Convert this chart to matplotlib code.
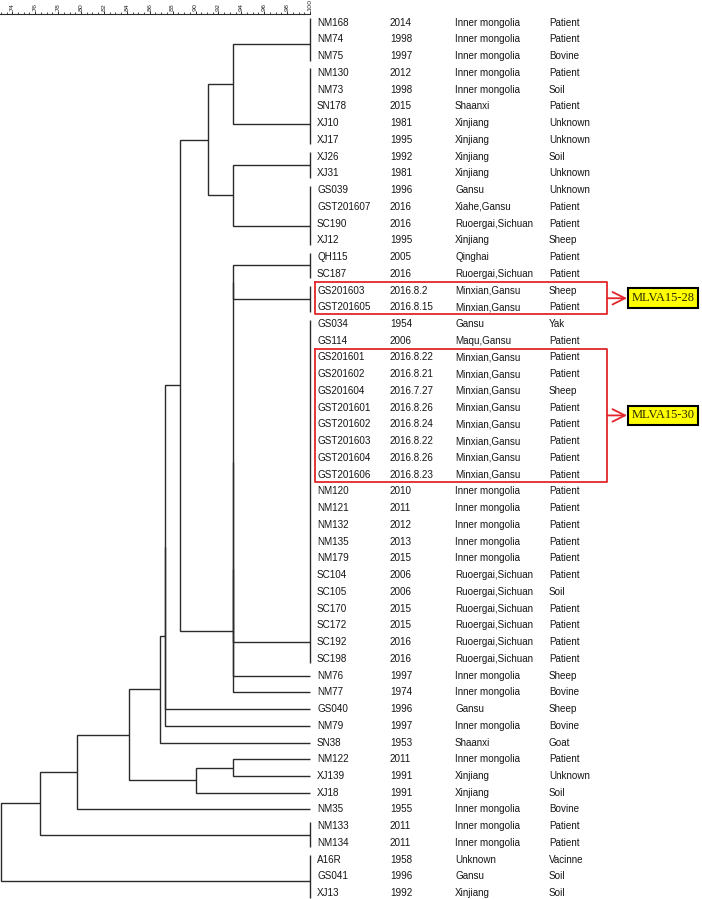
import matplotlib.pyplot as plt

# strains, top to bottom as they appear beside the dendrogram
names = ['NM168', 'NM74', 'NM75', 'NM130', 'NM73', 'SN178', 'XJ10', 'XJ17', 'XJ26', 'XJ31',
         'GS039', 'GST201607', 'SC190', 'XJ12', 'QH115', 'SC187', 'GS201603', 'GST201605',
         'GS034', 'GS114', 'GS201601', 'GS201602', 'GS201604', 'GST201601', 'GST201602',
         'GST201603', 'GST201604', 'GST201606', 'NM120', 'NM121', 'NM132', 'NM135', 'NM179',
         'SC104', 'SC105', 'SC170', 'SC172', 'SC192', 'SC198', 'NM76', 'NM77', 'GS040',
         'NM79', 'SN38', 'NM122', 'XJ139', 'XJ18', 'NM35', 'NM133', 'NM134', 'A16R',
         'GS041', 'XJ13']
years = ['2014', '1998', '1997', '2012', '1998', '2015', '1981', '1995', '1992', '1981',
         '1996', '2016', '2016', '1995', '2005', '2016', '2016.8.2', '2016.8.15',
         '1954', '2006', '2016.8.22', '2016.8.21', '2016.7.27', '2016.8.26', '2016.8.24',
         '2016.8.22', '2016.8.26', '2016.8.23', '2010', '2011', '2012', '2013', '2015',
         '2006', '2006', '2015', '2015', '2016', '2016', '1997', '1974', '1996',
         '1997', '1953', '2011', '1991', '1991', '1955', '2011', '2011', '1958',
         '1996', '1992']
places = ['Inner mongolia'] * 5 + ['Shaanxi'] + ['Xinjiang'] * 4 + \
         ['Gansu', 'Xiahe,Gansu', 'Ruoergai,Sichuan', 'Xinjiang', 'Qinghai', 'Ruoergai,Sichuan',
          'Minxian,Gansu', 'Minxian,Gansu', 'Gansu', 'Maqu,Gansu'] + ['Minxian,Gansu'] * 8 + \
         ['Inner mongolia'] * 5 + ['Ruoergai,Sichuan'] * 6 + \
         ['Inner mongolia', 'Inner mongolia', 'Gansu', 'Inner mongolia', 'Shaanxi',
          'Inner mongolia', 'Xinjiang', 'Xinjiang', 'Inner mongolia', 'Inner mongolia',
          'Inner mongolia', 'Unknown', 'Gansu', 'Xinjiang']
sources = ['Patient', 'Patient', 'Bovine', 'Patient', 'Soil', 'Patient', 'Unknown', 'Unknown',
           'Soil', 'Unknown', 'Unknown', 'Patient', 'Patient', 'Sheep', 'Patient', 'Patient',
           'Sheep', 'Patient', 'Yak', 'Patient', 'Patient', 'Patient', 'Sheep', 'Patient',
           'Patient', 'Patient', 'Patient', 'Patient', 'Patient', 'Patient', 'Patient',
           'Patient', 'Patient', 'Patient', 'Soil', 'Patient', 'Patient', 'Patient', 'Patient',
           'Sheep', 'Bovine', 'Sheep', 'Bovine', 'Goat', 'Patient', 'Unknown', 'Soil',
           'Bovine', 'Patient', 'Patient', 'Vacinne', 'Soil', 'Soil']

# strains with identical profiles (100 % similarity)
groups = {
    'g1': [0, 1, 2],
    'g2': [3, 4, 5, 6, 7],
    'g3': [8, 9],
    'g4': [10, 11, 12, 13],
    'g5': [14, 15],
    'g6': [16, 17],
    'g7': list(range(18, 39)),
    'g8': [48, 49],
    'g9': [50, 51, 52],
}

# dendrogram nodes: (similarity %, left, right); ints are single strains, strings are groups
clade_a = (93.3, 'g1', 'g2')
clade_b = (93.3, 'g3', 'g4')
clade_c = (91.1, clade_a, clade_b)
clade_e = (93.3, (93.3, (93.3, (93.3, 'g5', 'g6'), 'g7'), 39), 40)
clade_d = (88.65, clade_c, clade_e)
clade_f = (87.3, (87.3, clade_d, 41), 42)
clade_g = (86.9, clade_f, 43)
clade_i = (90.0, (93.3, 44, 45), 46)
clade_h = (84.2, clade_g, clade_i)
clade_k = (79.65, clade_h, 47)
clade_l = (76.4, clade_k, 'g8')
tree = (73.0, clade_l, 'g9')

# highlighted MLVA types: first row, last row, label
highlights = [(16, 17, 'MLVA15-28'), (20, 27, 'MLVA15-30')]

W, H = 702, 899
PX = 11.45          # pixels per similarity unit
X100 = 310          # pixel position of 100 %
ROW0, ROWH = 22.7, 16.74


def sx(px):
    return 100 + (px - X100) / PX


fig = plt.figure(figsize=(W / 100, H / 100), dpi=100)
ax = fig.add_axes([0, 0, 1, 1])
ax.set_xlim(sx(0), sx(W))
ax.set_ylim((H - ROW0) / ROWH, -ROW0 / ROWH)
ax.axis('off')

line = dict(color='#2b2b2b', lw=1.0, solid_capstyle='butt', solid_joinstyle='miter')


def draw(node):
    if isinstance(node, int):
        return 100.0, node
    if isinstance(node, str):
        rows = groups[node]
        ax.plot([100, 100], [rows[0] - 0.27, rows[-1] + 0.27], **line)
        y = rows[0]
        for r in rows[1:]:
            y = (y + r) / 2
        return 100.0, y
    sim, a, b = node
    xa, ya = draw(a)
    xb, yb = draw(b)
    ax.plot([xa, sim, sim, xb], [ya, ya, yb, yb], **line)
    return sim, (ya + yb) / 2


draw(tree)

font = dict(family='Liberation Sans', fontsize=7.1, color='#151515', va='center')
for i in range(len(names)):
    ax.text(sx(317), i, names[i], **font)
    ax.text(sx(390), i, years[i], **font)
    ax.text(sx(455), i, places[i], **font)
    ax.text(sx(549), i, sources[i], **font)

red = '#e3262b'
for first, last, label in highlights:
    top, bottom = first - 0.5, last + 0.42
    ax.plot([sx(315), sx(607), sx(607), sx(315), sx(315)],
            [top, top, bottom, bottom, top], color=red, lw=1.3)
    yc = (top + bottom) / 2
    ax.annotate('', xy=(sx(627), yc), xytext=(sx(607), yc),
                arrowprops=dict(arrowstyle='->,head_length=0.9,head_width=0.45',
                                color=red, lw=1.3, shrinkA=0, shrinkB=0))
    ax.text(sx(663), yc, label, family='Liberation Serif', fontsize=9, color='#2a2a00',
            ha='center', va='center',
            bbox=dict(boxstyle='square,pad=0.3', fc='#ffff00', ec='black', lw=1.5))

# similarity scale at the top
top_y = 1 - 14 / H
sax = fig.add_axes([0, top_y - 0.01, X100 / W, 0.01])
sax.set_xlim(sx(0), 100)
sax.patch.set_visible(False)
for side in ['left', 'right', 'bottom']:
    sax.spines[side].set_visible(False)
sax.spines['top'].set_linewidth(0.8)
sax.spines['top'].set_color('#2b2b2b')
sax.set_yticks([])
sax.xaxis.tick_top()
sax.set_xticks(range(74, 101, 2))
sax.set_xticks([v / 2 for v in range(146, 200)], minor=True)
sax.tick_params(axis='x', which='major', direction='out', length=2.0, width=0.7,
                labelsize=4.6, labelrotation=90, pad=0.3, colors='#2b2b2b')
sax.tick_params(axis='x', which='minor', direction='out', length=1.2, width=0.6,
                colors='#2b2b2b')

fig.savefig('out.png', dpi=100)
